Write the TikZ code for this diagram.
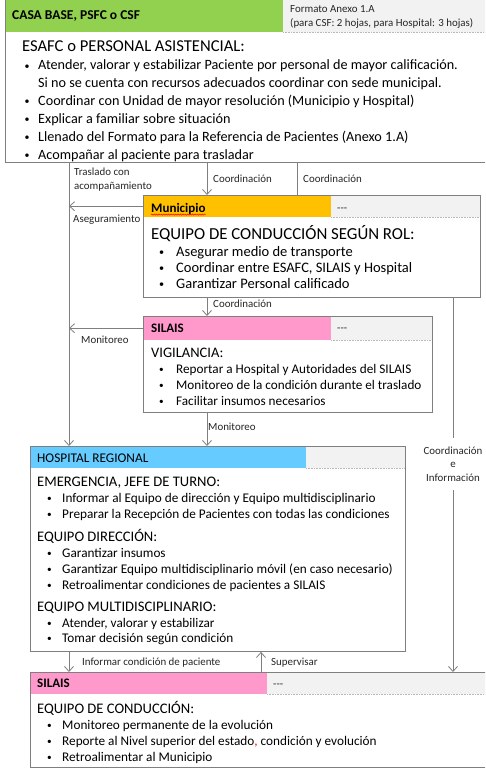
\documentclass[tikz,border=0pt]{standalone}
\usepackage{fontspec}
\setmainfont{Carlito}
\usetikzlibrary{arrows.meta,decorations.pathmorphing,calc}
\definecolor{hgreen}{HTML}{92D050}
\definecolor{horange}{HTML}{FFC000}
\definecolor{hpink}{HTML}{FF99CC}
\definecolor{hblue}{HTML}{66CCFF}
\definecolor{hgrey}{HTML}{F2F2F2}
\definecolor{bordc}{HTML}{7F7F7F}
\definecolor{linec}{HTML}{7F7F7F}
\newcommand\fsz[2]{\fontsize{#1}{#2}\selectfont}
\newcommand\smbul{\raisebox{0.06em}{\scalebox{0.7}{\textbullet}}}
\newcommand\dashes{\mbox{-}\mbox{-}\mbox{-}}
\newcommand\bul[6]{%
  \node[txt, font=\fsz{#5}{#5}] (#1b) at (#2,#4) {\smbul};
  \node[txt, font=\fsz{#5}{#5}] (#1) at (#3,#4) {#6};}
\tikzset{
  frame/.style={draw=bordc, line width=0.9pt, inner sep=0, anchor=north west},
  hdr/.style={fill=#1, draw=none, inner sep=0, anchor=north west},
  dotline/.style={draw=black!28, densely dotted, line width=0.6pt},
  conn/.style={draw=linec, line width=0.9pt},
  arr/.style={conn, -{Straight Barb[length=5pt,width=9pt,line width=0.8pt]}},
  txt/.style={anchor=base west, inner sep=0},
  lbl/.style={txt, font=\fsz{10.9}{13}, text=black!85},
  hb/.style={txt, font=\fsz{13}{15}\bfseries},
}
\begin{document}
\begin{tikzpicture}[x=1pt,y=-1pt]
\useasboundingbox (0,0) rectangle (485,768);
\clip (0,0) rectangle (485,768);
\fill[white] (0,0) rectangle (485,768);

% ---------- top box ----------
\node[hdr=hgreen, minimum width=278pt, minimum height=32pt] (toph) at (5,0) {};
\node[hdr=hgrey, minimum width=210pt, minimum height=32pt] (topg) at (283,0) {};
\draw[dotline] (topg.south west) -- (topg.south east);
\node[frame, minimum width=500pt, minimum height=172pt] (top) at (5,-10) {};
\node[hb, font=\fsz{13.5}{15}\bfseries] (t1) at (12,20) {CASA BASE, PSFC o CSF};
\node[lbl] (t2) at (290,12.7) {Formato Anexo 1.A};
\node[lbl] (t3) at (290,26.7) {(para CSF: 2 hojas, para Hospital: 3 hojas)};
\node[txt, font=\fsz{16.6}{20}] (t4) at (22,52) {ESAFC o PERSONAL ASISTENCIAL:};
\bul{t5}{24.5}{38}{70}{14.2}{Atender, valorar y estabilizar Paciente por personal de mayor calificación.}
\node[txt, font=\fsz{14.2}{16}] (t6) at (38,87.5) {Si no se cuenta con recursos adecuados coordinar con sede municipal.};
\bul{t7}{24.5}{38}{105.5}{14.2}{Coordinar con Unidad de mayor resolución (Municipio y Hospital)}
\bul{t8}{24.5}{38}{123.5}{14.2}{Explicar a familiar sobre situación}
\bul{t9}{24.5}{38}{141.5}{14.2}{Llenado del Formato para la Referencia de Pacientes (Anexo 1.A)}
\bul{t10}{24.5}{38}{159}{14.2}{Acompañar al paciente para trasladar}

% ---------- Municipio ----------
\node[hdr=horange, minimum width=188pt, minimum height=22pt] (munh) at (143,195) {};
\node[hdr=hgrey, minimum width=149pt, minimum height=22pt] (mung) at (331,195) {};
\draw[dotline] (mung.south west) -- (mung.south east);
\node[frame, minimum width=337pt, minimum height=102pt] (mun) at (143,195) {};
\node[hb] (m1) at (151,212) {Municipio};
\draw[red, line width=0.5pt, decorate, decoration={snake, amplitude=0.6pt, segment length=2.4pt}]
  ($(m1.base west)+(0,2.6)$) -- ($(m1.base east)+(0,2.6)$);
\node[lbl] (m2) at (337,211.5) {\dashes};
\node[txt, font=\fsz{16.8}{20}] (m3) at (151,239) {EQUIPO DE CONDUCCIÓN SEGÚN ROL:};
\bul{m4}{159}{176}{256}{14.5}{Asegurar medio de transporte}
\bul{m5}{159}{176}{272}{14.5}{Coordinar entre ESAFC, SILAIS y Hospital}
\bul{m6}{159}{176}{288}{14.5}{Garantizar Personal calificado}

% ---------- SILAIS 1 ----------
\node[hdr=hpink, minimum width=188pt, minimum height=24pt] (silh) at (143,316) {};
\node[hdr=hgrey, minimum width=101pt, minimum height=24pt] (silg) at (331,316) {};
\draw[dotline] (silg.south west) -- (silg.south east);
\node[frame, minimum width=289pt, minimum height=96pt] (sil) at (143,316) {};
\node[hb] (s1) at (151,332) {SILAIS};
\node[lbl] (s2) at (337,331.5) {\dashes};
\node[txt, font=\fsz{14.5}{17}] (s3) at (151,357) {VIGILANCIA:};
\bul{s4}{159}{176}{373}{13.2}{Reportar a Hospital y Autoridades del SILAIS}
\bul{s5}{159}{176}{389}{13.2}{Monitoreo de la condición durante el traslado}
\bul{s6}{159}{176}{405}{13.2}{Facilitar insumos necesarios}

% ---------- Hospital ----------
\node[hdr=hblue, minimum width=276pt, minimum height=22pt] (hosph) at (30,446) {};
\node[hdr=hgrey, minimum width=99pt, minimum height=22pt] (hospg) at (306,446) {};
\draw[dotline] (hospg.south west) -- (hospg.south east);
\node[frame, minimum width=375pt, minimum height=205pt] (hosp) at (30,446) {};
\node[txt, font=\fsz{13.3}{15}] (h1) at (37,462) {HOSPITAL REGIONAL};
\node[txt, font=\fsz{14.6}{17}] (h2) at (37,486) {EMERGENCIA, JEFE DE TURNO:};
\bul{h3}{47}{62}{502}{13.25}{Informar al Equipo de dirección y Equipo multidisciplinario}
\bul{h4}{47}{62}{518}{13.25}{Preparar la Recepción de Pacientes con todas las condiciones}
\node[txt, font=\fsz{14.6}{17}] (h5) at (37,541) {EQUIPO DIRECCIÓN:};
\bul{h6}{47}{62}{557}{13.25}{Garantizar insumos}
\bul{h7}{47}{62}{573}{13.25}{Garantizar Equipo multidisciplinario móvil (en caso necesario)}
\bul{h8}{47}{62}{589}{13.25}{Retroalimentar condiciones de pacientes a SILAIS}
\node[txt, font=\fsz{14.6}{17}] (h9) at (37,611) {EQUIPO MULTIDISCIPLINARIO:};
\bul{h10}{47}{62}{627}{13.25}{Atender, valorar y estabilizar}
\bul{h11}{47}{62}{642.5}{13.25}{Tomar decisión según condición}

% ---------- SILAIS 2 ----------
\node[hdr=hpink, minimum width=237pt, minimum height=22pt] (sil2h) at (30,672) {};
\node[hdr=hgrey, minimum width=230pt, minimum height=22pt] (sil2g) at (267,672) {};
\draw[dotline] (sil2g.south west) -- (sil2g.south east);
\node[frame, minimum width=470pt, minimum height=95pt] (sil2) at (30,672) {};
\node[hb] (u1) at (37,687) {SILAIS};
\node[lbl] (u2) at (273,687) {\dashes};
\node[txt, font=\fsz{14.6}{17}] (u3) at (37,713) {EQUIPO DE CONDUCCIÓN:};
\bul{u4}{47}{62}{729}{13.25}{Monitoreo permanente de la evolución}
\bul{u5}{47}{62}{745}{13.25}{Reporte al Nivel superior del estado\textcolor{red}{,} condición y evolución}
\bul{u6}{47}{62}{761}{13.25}{Retroalimentar al Municipio}

% ---------- connectors ----------
\coordinate (vl) at (69,0);
\coordinate (cx) at (207,0);
\coordinate (cy) at (297,0);
\coordinate (sx) at (261,0);
\draw[arr] (vl |- top.south) -- (vl |- hosp.north);
\node[lbl] (l1) at (74,175) {Traslado con};
\node[lbl] (l2) at (74,189) {acompañamiento};
\draw[arr] (cx |- top.south) -- (cx |- mun.north);
\node[lbl] (l3) at (213,182) {Coordinación};
\draw[conn] (cy |- top.south) -- (cy |- mun.north);
\node[lbl] (l4) at (303,182) {Coordinación};
\draw[arr] (munh.west) -- (vl |- munh.west);
\node[lbl] (l5) at (73,222) {Aseguramiento};
\draw[arr] (cx |- mun.south) -- (cx |- sil.north);
\node[lbl] (l6) at (213,307.5) {Coordinación};
\draw[arr] (silh.west) -- (vl |- silh.west);
\node[lbl] (l7) at (81,343) {Monitoreo};
\draw[arr] (cx |- sil.south) -- (cx |- hosp.north);
\node[lbl] (l8) at (208,430) {Monitoreo};
\node[font=\fsz{10.9}{13.3}, text=black!85, align=center, inner sep=0, minimum height=52pt] (cei) at (453,464) {Coordinación\\e\\Información};
\draw[conn] (cei |- mun.south) -- (cei.north);
\draw[arr] (cei.south) -- (cei |- sil2.north);
\draw[arr] (vl |- hosp.south) -- (vl |- sil2.north);
\node[lbl] (l9) at (82,665.5) {Informar condición de paciente};
\draw[arr] (sx |- sil2.north) -- (sx |- hosp.south);
\node[lbl] (l10) at (271,665) {Supervisar};
\end{tikzpicture}
\end{document}
